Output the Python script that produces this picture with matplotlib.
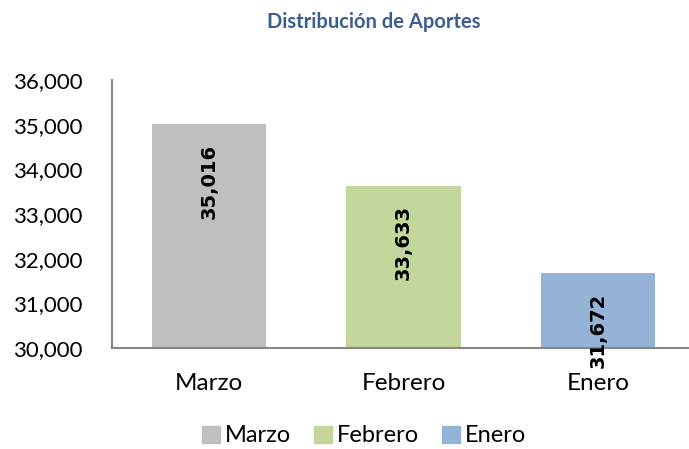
import matplotlib.pyplot as plt
from matplotlib.ticker import FuncFormatter
import matplotlib.patches as mpatches

meses = ["Marzo", "Febrero", "Enero"]
aportes = [35016, 33633, 31672]
colores = ["#BFBFBF", "#C3D69B", "#95B3D7"]
y_ticks = [30000, 31000, 32000, 33000, 34000, 35000, 36000]

plt.rcParams['font.family'] = ['Lato', 'DejaVu Sans']

fig = plt.figure(figsize=(6.89, 4.49), dpi=100)
ax = fig.add_axes([112 / 689, 101 / 449, 583 / 689, 268 / 449])

x = range(len(meses))
bars = ax.bar(x, aportes, width=0.59, color=colores)
ax.set_ylim(30000, 36000)
ax.set_xlim(-0.5, 2.5)
ax.set_yticks(y_ticks)
ax.yaxis.set_major_formatter(FuncFormatter(lambda v, p: f"{int(v):,}"))
ax.set_xticks(list(x))
ax.set_xticklabels(meses)

for s in ["top", "right"]:
    ax.spines[s].set_visible(False)
for s in ["left", "bottom"]:
    ax.spines[s].set_color("#868686")
    ax.spines[s].set_linewidth(1.5)
ax.tick_params(axis="y", length=0, pad=21, labelsize=16, colors="#000000")
ax.tick_params(axis="x", length=0, pad=18, labelsize=17.5)

# etiquetas de valor, giradas
for xi, v in zip(x, aportes):
    ax.annotate(f"{v:,}", xy=(xi, v), xytext=(0, -14), textcoords="offset points",
                rotation=90, ha="center", va="top", fontsize=14, fontweight="bold",
                family="DejaVu Sans", annotation_clip=False)

fig.text(374 / 689, 1 - 22 / 449, "Distribución de Aportes", ha="center", va="center",
         fontsize=14.5, fontweight="bold", color="#3B5E91")

handles = [mpatches.Patch(color=c, label=m) for m, c in zip(meses, colores)]
fig.legend(handles=handles, loc="center", bbox_to_anchor=(364 / 689, 1 - 436 / 449),
           ncol=3, frameon=False, fontsize=17, handlelength=0.75, handleheight=0.75,
           handletextpad=0.2, columnspacing=1.0, borderpad=0)

fig.savefig("out.png", dpi=100)
